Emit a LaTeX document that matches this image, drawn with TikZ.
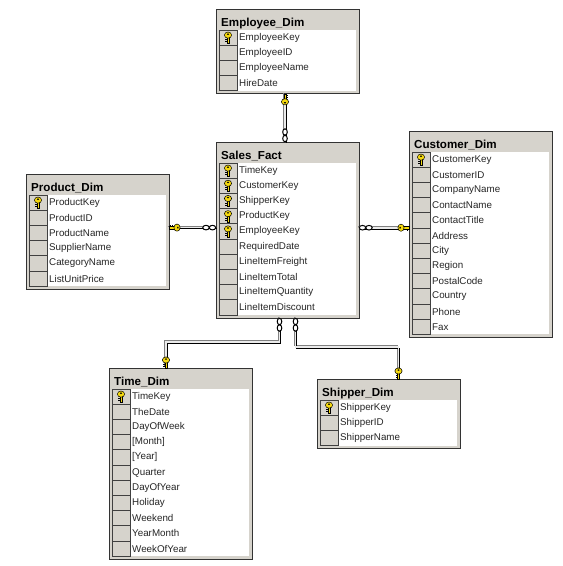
\documentclass[tikz,border=0pt]{standalone}
\usepackage{fontspec}
\setmainfont{Liberation Sans}
\definecolor{panelgray}{HTML}{D6D3CC}
\definecolor{keyyellow}{HTML}{F5D90F}
\tikzset{
  tablebox/.style={draw=black!80,line width=0.9pt,fill=panelgray,minimum width=143pt,inner sep=0pt,outer sep=0pt,anchor=north west},
  rowpanel/.style={fill=white,minimum width=137pt,inner sep=0pt,outer sep=0pt,anchor=north west},
  keycell/.style={draw=black!75,line width=0.7pt,fill=panelgray,minimum width=18pt,minimum height=15.2pt,inner sep=0pt,outer sep=0pt,anchor=north west},
  tabletitle/.style={inner sep=0pt,anchor=base west,font=\fontsize{11.6}{13}\selectfont\bfseries},
  rowlabel/.style={inner sep=0pt,anchor=west,font=\fontsize{9.8}{12}\selectfont,text=black!85},
  relline/.style={line width=1.6pt,draw=white!92!black,
    preaction={draw=black!50,line width=1.3pt,transform canvas={shift={(-1.2pt,1.2pt)}}},
    preaction={draw=black,line width=1.3pt,transform canvas={shift={(1.2pt,-1.2pt)}}}},
  pics/keyicon/.style={code={
    \fill[black] (-1,-1)--(-3,-1)--(-3,-2)--(-1,-2)--cycle;
    \fill[black] (-1,-3)--(-2.6,-3)--(-2.6,-4)--(-1,-4)--cycle;
    \fill[keyyellow,draw=black,line width=0.4pt] (-1.1,0)--(1.1,0)--(1.1,-6)--(-1.1,-6)--cycle;
    \fill[keyyellow,draw=black,line width=0.5pt] (0,-8) ellipse (3.6pt and 3.1pt);
    \fill[black] (0,-8.9) ellipse (1.2pt and 0.8pt);
  }},
  pics/chainlink/.style={code={
    \draw[black,line width=1pt,fill=white] (0,3.5) ellipse (2.3pt and 3.2pt);
    \draw[black,line width=1pt,fill=white] (0,10) ellipse (2.3pt and 3.2pt);
  }}
}
\newcommand{\dimtable}[6]{%
  \pgfmathsetmacro{\boxhgt}{24+#5*15.2}
  \pgfmathsetmacro{\panelhgt}{#5*15.2}
  \node[tablebox,minimum height=\boxhgt pt] (#1) at (#2,#3) {};
  \node[tabletitle] (#1-title) at (#2+5,#3+17) {#4};
  \node[rowpanel,minimum height=\panelhgt pt] (#1-rows) at (#2+3,#3+21) {};
  \foreach \rowtext/\rowkey [count=\rowno from 0] in {#6} {
    \pgfmathsetmacro{\rowtop}{#3+21+\rowno*15.2}
    \node[keycell] (#1-cell\rowno) at (#2+3,\rowtop) {};
    \node[rowlabel] (#1-row\rowno) at (#2+23,\rowtop+7.6) {\rowtext};
    \ifnum\rowkey=1 \pic at ([yshift=-5.5pt]#1-cell\rowno.center) {keyicon}; \fi
  }
}
\begin{document}
\begin{tikzpicture}[x=1pt,y=-1pt]
  \useasboundingbox (0,0) rectangle (563,566);
  \fill[white] (0,0) rectangle (563,566);
  \dimtable{employee}{216}{9}{Employee\_Dim}{4}{EmployeeKey/1,EmployeeID/0,EmployeeName/0,HireDate/0}
  \dimtable{sales}{216}{142}{Sales\_Fact}{10}{TimeKey/1,CustomerKey/1,ShipperKey/1,ProductKey/1,EmployeeKey/1,RequiredDate/0,LineItemFreight/0,LineItemTotal/0,LineItemQuantity/0,LineItemDiscount/0}
  \dimtable{customer}{409}{131}{Customer\_Dim}{12}{CustomerKey/1,CustomerID/0,CompanyName/0,ContactName/0,ContactTitle/0,Address/0,City/0,Region/0,PostalCode/0,Country/0,Phone/0,Fax/0}
  \dimtable{product}{26}{174}{Product\_Dim}{6}{ProductKey/1,ProductID/0,ProductName/0,SupplierName/0,CategoryName/0,ListUnitPrice/0}
  \dimtable{time}{109}{368}{Time\_Dim}{11}{TimeKey/1,TheDate/0,DayOfWeek/0,{[Month]}/0,{[Year]}/0,Quarter/0,DayOfYear/0,Holiday/0,Weekend/0,YearMonth/0,WeekOfYear/0}
  \dimtable{shipper}{317}{379}{Shipper\_Dim}{3}{ShipperKey/1,ShipperID/0,ShipperName/0}
  \draw[relline] ([xshift=-2.5pt]employee.south) -- ([xshift=-2.5pt]sales.north);
  \draw[relline] ([yshift=4pt]product.east) -- ([yshift=4pt]product.east -| sales.west);
  \draw[relline] ([yshift=6.5pt]customer.west) -- ([yshift=6.5pt]customer.west -| sales.east);
  \draw[relline] ([xshift=-8pt]sales.south) -- ++(0,24) -| ([xshift=-14.5pt]time.north);
  \draw[relline] ([xshift=8pt]sales.south) -- ++(0,29) -| ([xshift=10pt]shipper.north);
  \pic[rotate=180] at ([xshift=-2.5pt]employee.south) {keyicon};
  \pic[rotate=-90] at ([yshift=4pt]product.east) {keyicon};
  \pic[rotate=90] at ([yshift=6.5pt]customer.west) {keyicon};
  \pic at ([xshift=-14.5pt]time.north) {keyicon};
  \pic at ([xshift=10pt]shipper.north) {keyicon};
  \pic[rotate=180] at ([xshift=-2.5pt]sales.north) {chainlink};
  \pic[rotate=-90] at ([yshift=4pt]product.east -| sales.west) {chainlink};
  \pic[rotate=90] at ([yshift=6.5pt]customer.west -| sales.east) {chainlink};
  \pic at ([xshift=-8pt]sales.south) {chainlink};
  \pic at ([xshift=8pt]sales.south) {chainlink};
\end{tikzpicture}
\end{document}
